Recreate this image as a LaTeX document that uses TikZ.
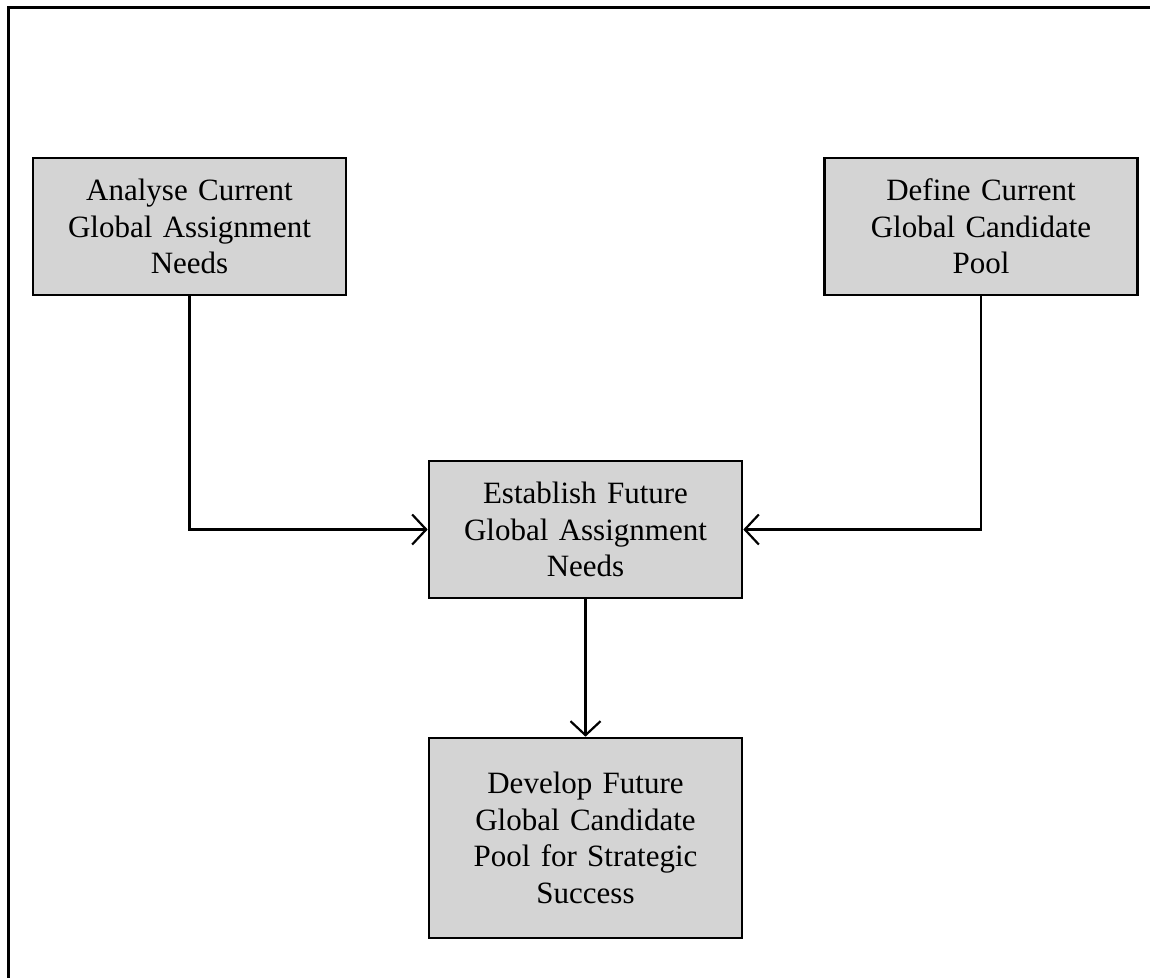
\documentclass[tikz,border=0pt]{standalone}
\usepackage{fontspec}
\setmainfont{Liberation Serif}
\usetikzlibrary{arrows.meta}
\begin{document}
\begin{tikzpicture}[x=1pt,y=-1pt,
  procbox/.style={draw=black, line width=2.6pt, fill=black!17, inner sep=0pt,
    minimum width=313pt, text width=300pt, align=center,
    font=\fontsize{31}{36.5}\selectfont},
  conn/.style={line width=2.6pt, -{Straight Barb[length=14pt,width=30pt,line width=2.2pt]}}]
\useasboundingbox (0,0) rectangle (1150,977);
\begin{scope}
\clip (0,0) rectangle (1150,977);
\draw[line width=3pt] (8.5,1000) -- (8.5,7.5) -- (1160,7.5);
\end{scope}
\node[procbox, minimum height=137pt] (a) at (189.5,226.5) {Analyse Current\\Global Assignment\\Needs};
\node[procbox, minimum height=137pt] (b) at (981,226.5) {Define Current\\Global Candidate\\Pool};
\node[procbox, minimum height=137pt] (c) at (585.5,529.5) {Establish Future\\Global Assignment\\Needs};
\node[procbox, minimum height=200pt] (d) at (585.5,838) {Develop Future\\Global Candidate\\Pool for Strategic\\Success};
\draw[conn] (a.south) |- (c.west);
\draw[conn] (b.south) |- (c.east);
\draw[conn] (c.south) -- (d.north);
\end{tikzpicture}
\end{document}
